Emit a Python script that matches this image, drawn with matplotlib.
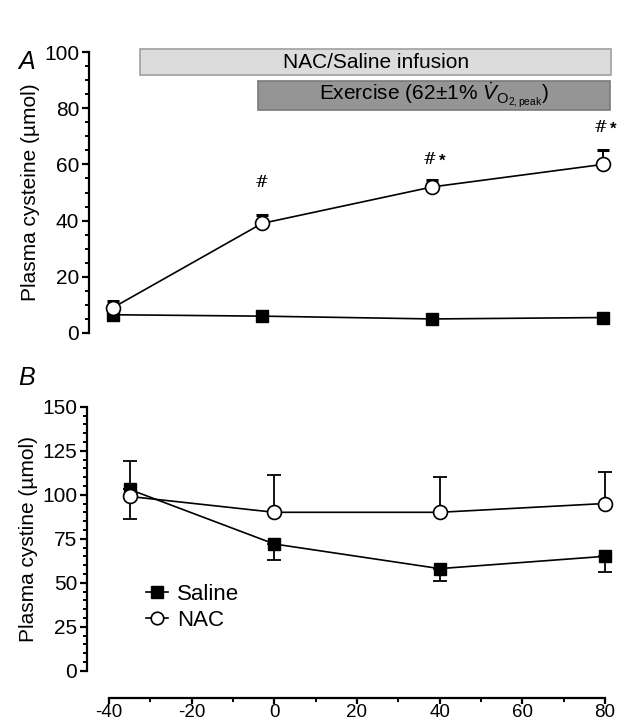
import numpy as np
import matplotlib
matplotlib.use("Agg")
from matplotlib import pyplot as plt

plt.rcParams['font.family'] = ['Liberation Sans', 'DejaVu Sans']
plt.rcParams['mathtext.fontset'] = 'custom'
plt.rcParams['mathtext.rm'] = 'Liberation Sans'
plt.rcParams['mathtext.it'] = 'Liberation Sans:italic'
plt.rcParams['axes.unicode_minus'] = False

# time points (min)
times = [-35, 0, 40, 80]

# panel A: plasma cysteine (umol)
cys_saline = [6.5, 6.0, 5.0, 5.5]
cys_nac = [9.0, 39.0, 52.0, 60.0]
cys_nac_err = [2.5, 3.0, 2.5, 5.0]

# panel B: plasma cystine (umol)
cyn_saline = [103, 72, 58, 65]
cyn_saline_err = [17, 9, 7, 9]
cyn_nac = [99, 90, 90, 95]
cyn_nac_err = [20, 21, 20, 18]

# significance marks in panel A
sig_x = [0, 40, 80]
sig_y = [53.6, 61.8, 73.2]
sig_stars = [False, True, True]

# protocol bars (start, end in min)
phase_labels = ['NAC/Saline infusion', r'Exercise (62$\pm$1% $\dot{V}_{\mathrm{O_{2,peak}}}$)']
phase_start = [-28.7, -1.0]
phase_end = [82.0, 81.7]

W, H = 617, 721
fig = plt.figure(figsize=(W / 100, H / 100), dpi=100)

def px_box(x0, y_top, x1, y_bot):
    return [x0 / W, 1 - y_bot / H, (x1 - x0) / W, (y_bot - y_top) / H]

axA = fig.add_axes(px_box(89, 52, 617, 333))
axB = fig.add_axes(px_box(87, 406.7, 617, 670.7))

lw = 1.2
fs = 15
for ax in (axA, axB):
    for s in ('top', 'right'):
        ax.spines[s].set_visible(False)
    ax.spines['left'].set_linewidth(1.6)
    ax.tick_params(axis='y', which='major', length=5, width=1.6, labelsize=fs, pad=2)
    ax.tick_params(axis='y', which='minor', length=3, width=1.4)

# ---------- panel A ----------
axA.set_xlim(-40.6, 83.3)
axA.set_ylim(0, 100)
axA.spines['bottom'].set_visible(False)
axA.set_xticks([])
axA.set_yticks(np.arange(0, 101, 20))
axA.set_yticks(np.arange(0, 101, 5), minor=True)
axA.set_ylabel('Plasma cysteine (µmol)', fontsize=fs, labelpad=3)

axA.errorbar(times, cys_nac, yerr=[np.zeros(4), cys_nac_err], fmt='none',
             ecolor='black', elinewidth=1.4, capsize=4.5, capthick=2.2, zorder=2)
axA.plot(times, cys_saline, '-s', color='black', lw=lw, ms=9, mfc='black', zorder=3)
axA.plot(times, cys_nac, '-o', color='black', lw=lw, ms=10, mfc='white', mew=1.2, zorder=4)

for x, y, st in zip(sig_x, sig_y, sig_stars):
    if st:
        axA.text(x - 0.6, y, '#', ha='center', va='center', fontsize=12, family='DejaVu Serif')
        axA.text(x + 2.3, y - 0.8, '*', ha='center', va='center', fontsize=12, fontweight='bold')
    else:
        axA.text(x, y, '#', ha='center', va='center', fontsize=12, family='DejaVu Serif')

bar_y = [96.4, 84.6]
bar_h = [9.3, 10.4]
bar_fc = ['#dcdcdc', '#959595']
bar_ec = ['#a0a0a0', '#7a7a7a']
for lab, s, e, y, h, fc, ec in zip(phase_labels, phase_start, phase_end, bar_y, bar_h, bar_fc, bar_ec):
    axA.barh(y, e - s, left=s, height=h, color=fc, edgecolor=ec, lw=1.2, clip_on=False)
    axA.text((s + e) / 2, y, lab, ha='center', va='center', fontsize=fs, clip_on=False)

fig.text(18 / W, 1 - 62 / H, 'A', fontsize=18, style='italic', va='center', ha='left')

# ---------- panel B ----------
axB.set_xlim(-45.3, 82.9)
axB.set_ylim(0, 150)
axB.set_yticks(np.arange(0, 151, 25))
axB.set_yticks(np.arange(0, 151, 5), minor=True)
axB.set_xticks(np.arange(-40, 81, 20))
axB.set_xticks(np.arange(-40, 81, 10), minor=True)
axB.spines['bottom'].set_position(('outward', 20))
axB.spines['bottom'].set_bounds(-40, 80)
axB.spines['bottom'].set_linewidth(1.6)
axB.spines['left'].set_bounds(0, 150)
axB.tick_params(axis='x', which='major', length=4, width=1.6, labelsize=13.5, pad=0)
axB.tick_params(axis='x', which='minor', length=3, width=1.4)
axB.set_ylabel('Plasma cystine (µmol)', fontsize=fs, labelpad=3)

axB.errorbar(times, cyn_saline, yerr=[cyn_saline_err, np.zeros(4)], fmt='none',
             ecolor='black', elinewidth=1.3, capsize=5, capthick=1.3, zorder=2)
axB.errorbar(times, cyn_nac, yerr=[np.zeros(4), cyn_nac_err], fmt='none',
             ecolor='black', elinewidth=1.3, capsize=5, capthick=1.3, zorder=2)
l1, = axB.plot(times, cyn_saline, '-s', color='black', lw=lw, ms=9, mfc='black', zorder=3, label='Saline')
l2, = axB.plot(times, cyn_nac, '-o', color='black', lw=lw, ms=10, mfc='white', mew=1.2, zorder=4, label='NAC')
axB.legend(handles=[l1, l2], loc='upper left', bbox_to_anchor=(0.09, 0.37), frameon=False,
           fontsize=16, handlelength=1.0, handletextpad=0.4, labelspacing=0.2, borderpad=0,
           markerscale=0.9)

fig.text(18 / W, 1 - 378 / H, 'B', fontsize=18, style='italic', va='center', ha='left')

fig.savefig('out.png', dpi=100)
